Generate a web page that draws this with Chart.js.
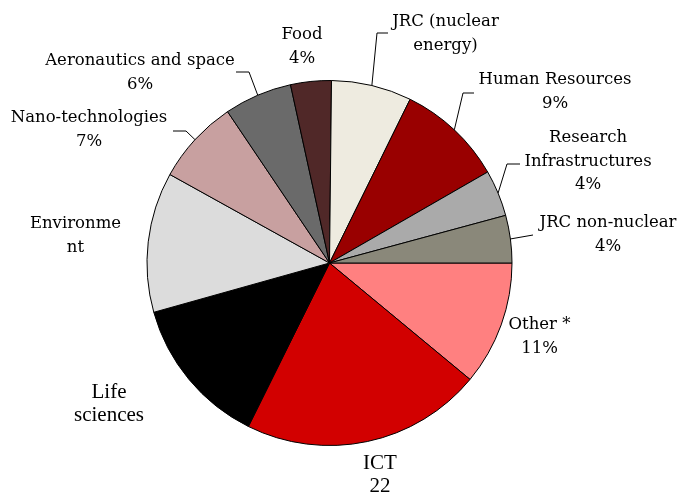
<!DOCTYPE html>
<html>
<head>
<meta charset="utf-8">
<script src="https://cdn.jsdelivr.net/npm/chart.js@4"></script>
<style>
  html, body { margin: 0; padding: 0; background: #ffffff; }
  #wrap { width: 681px; height: 498px; }
</style>
</head>
<body>
<div id="wrap"><canvas id="c" width="681" height="498"></canvas></div>
<script>
// ---- data (clockwise from 3 o'clock) ----
const categories = ["Other *", "ICT", "Life sciences", "Environment", "Nano-technologies",
  "Aeronautics and space", "Food", "JRC (nuclear energy)", "Human Resources",
  "Research Infrastructures", "JRC non-nuclear"];
const shares = [11, 21.3, 13.3, 12.4, 7.5, 6, 3.6, 7.1, 9.4, 4.1, 4.2];
const labelLines = [
  ["Other *", "11%"],
  ["ICT", "22"],
  ["Life", "sciences"],
  ["Environme", "nt"],
  ["Nano-technologies", "7%"],
  ["Aeronautics and space", "6%"],
  ["Food", "4%"],
  ["JRC (nuclear", "energy)"],
  ["Human Resources", "9%"],
  ["Research", "Infrastructures", "4%"],
  ["JRC non-nuclear", "4%"]
];
const sliceColors = ["#FF8080", "#D20000", "#000000", "#DCDCDC", "#C8A0A0",
  "#6A6A6A", "#502828", "#EEEBE0", "#990000", "#AAAAAA", "#8A887A"];

// ---- label layout (offsets from pie centre, px) ----
const labelPos = [
  {dx: 210, dy: 62},
  {dx: 50.5, dy: 200, cond: true},
  {dx: -220.5, dy: 129, cond: true},
  {dx: -254, dy: -39},
  {dx: -240.5, dy: -145},
  {dx: -189.5, dy: -202},
  {dx: -27.5, dy: -228},
  {dx: 116, dy: -241},
  {dx: 225.5, dy: -183},
  {dx: 258.5, dy: -125},
  {dx: 278.5, dy: -40}
];
const leaders = {
  4: [[-143.5, -132], [-156.5, -132]],
  5: [[-80.5, -191], [-93.5, -191]],
  7: [[47.5, -230], [58.5, -230]],
  8: [[133.5, -170], [144.5, -170]],
  9: [[177.5, -99], [190.5, -99]],
  10: [[203.5, -28]]
};

const labelPlugin = {
  id: 'pieLabels',
  afterDatasetsDraw(chart) {
    const ctx = chart.ctx;
    const meta = chart.getDatasetMeta(0);
    ctx.save();
    meta.data.forEach((arc, i) => {
      const cx = arc.x, cy = arc.y, r = arc.outerRadius;
      if (leaders[i]) {
        const mid = (arc.startAngle + arc.endAngle) / 2;
        ctx.beginPath();
        ctx.strokeStyle = '#000';
        ctx.lineWidth = 1;
        ctx.moveTo(cx + r * Math.cos(mid), cy + r * Math.sin(mid));
        leaders[i].forEach(p => ctx.lineTo(cx + p[0], cy + p[1]));
        ctx.stroke();
      }
      const lp = labelPos[i];
      ctx.fillStyle = '#000';
      ctx.textAlign = 'center';
      ctx.textBaseline = 'middle';
      ctx.font = lp.cond ? '21px "Liberation Serif"' : '16.5px "DejaVu Serif"';
      const lh = 23.5;
      labelLines[i].forEach((t, k) => {
        ctx.fillText(t, cx + lp.dx, cy + lp.dy + k * lh);
      });
    });
    ctx.restore();
  }
};

new Chart(document.getElementById('c'), {
  type: 'pie',
  data: {
    labels: categories,
    datasets: [{
      data: shares,
      backgroundColor: sliceColors,
      borderColor: '#000000',
      borderWidth: 1,
      hoverOffset: 0
    }]
  },
  options: {
    responsive: false,
    devicePixelRatio: 1,
    animation: false,
    rotation: 90,
    layout: { padding: { left: 146.5, right: 168.5, top: 80, bottom: 52 } },
    plugins: { legend: { display: false }, tooltip: { enabled: false } }
  },
  plugins: [labelPlugin]
});
</script>
</body>
</html>
